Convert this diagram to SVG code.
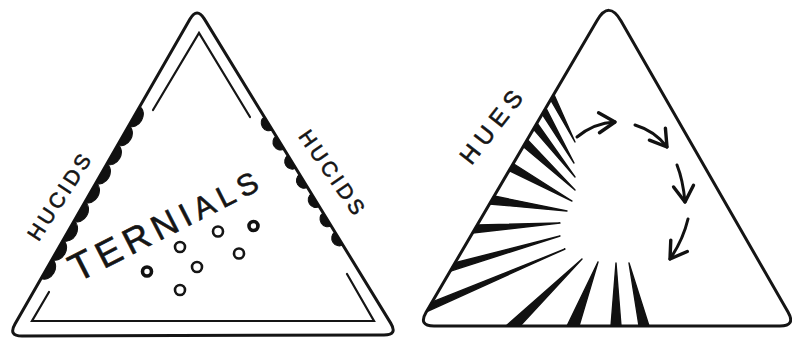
<svg xmlns="http://www.w3.org/2000/svg" width="792" height="341" viewBox="0 0 792 341">
<defs>
<style>
.outer{fill:none;stroke:#151515;stroke-width:3;stroke-linejoin:round}
.inner{fill:none;stroke:#151515;stroke-width:2.2;stroke-linejoin:miter;stroke-linecap:round}
.scallop{fill:#111;stroke:#111;stroke-width:1}
.lbl{font-family:"Liberation Sans",Arial,sans-serif;fill:#151515;stroke:#151515;stroke-width:0.6}
.ring{fill:none;stroke:#151515;stroke-width:2.6}
.ring2{fill:none;stroke:#111;stroke-width:3.6}
.ray{fill:#111;stroke:#111;stroke-width:1.4;stroke-linejoin:round}
.shaft{fill:none;stroke:#111;stroke-width:3;stroke-linecap:round}
</style>
<marker id="head" markerUnits="userSpaceOnUse" markerWidth="40" markerHeight="40" viewBox="-20 -20 40 40" refX="0" refY="0" orient="auto" overflow="visible">
<path d="M-16,-10 L0,0 L-16,10" fill="none" stroke="#111" stroke-width="3.4" stroke-linecap="round" stroke-linejoin="round"/>
</marker>
</defs>
<rect width="792" height="341" fill="#ffffff"/>

<g id="ternials-triangle">
<path class="outer" d="M190,19.1 L15,323.9 Q8,336 22,336 L384,335 Q398,335 390.7,323.1 L204.3,18.9 Q197,7 190,19.1 Z"/>
<path class="inner" d="M153,110 L199,33 L250,117"/>
<path class="inner" d="M49,292 L32,321 L374,321 L347,274"/>
<g transform="translate(197,7) rotate(119.9)">
<path class="scallop" d="M115,0 a11,8.5 0 0 1 22,0 a11,8.5 0 0 1 22,0 a11,8.5 0 0 1 22,0 a11,8.5 0 0 1 22,0 a11,8.5 0 0 1 22,0 a11,8.5 0 0 1 22,0 a11,8.5 0 0 1 22,0 a11,8.5 0 0 1 22,0 a11,8.5 0 0 1 22,0 Z"/>
</g>
<g transform="translate(197,7) rotate(58.5)">
<path class="scallop" d="M129,0 a7.5,7 0 0 0 15,0 Z M151.5,0 a7.5,7 0 0 0 15,0 Z M174,0 a7.5,7 0 0 0 15,0 Z M196.5,0 a7.5,7 0 0 0 15,0 Z M219,0 a7.5,7 0 0 0 15,0 Z M241.5,0 a7.5,7 0 0 0 15,0 Z M264,0 a7.5,7 0 0 0 15,0 Z"/>
</g>
<text class="lbl" transform="translate(59,197) rotate(-57)" y="7.5" text-anchor="middle" font-size="21" textLength="98" lengthAdjust="spacing">HUCIDS</text>
<text class="lbl" transform="translate(332,172) rotate(55)" y="7.5" text-anchor="middle" font-size="21" textLength="98" lengthAdjust="spacing">HUCIDS</text>
<text class="lbl" transform="translate(169,236) rotate(-27)" text-anchor="middle" textLength="206" lengthAdjust="spacing" stroke-width="0.3"><tspan font-size="39">T</tspan><tspan font-size="37">E</tspan><tspan font-size="36">R</tspan><tspan font-size="35">N</tspan><tspan font-size="33">I</tspan><tspan font-size="31">A</tspan><tspan font-size="30">L</tspan><tspan font-size="30">S</tspan></text>
<circle class="ring2" cx="147" cy="271.5" r="4.5"/>
<circle class="ring" cx="180" cy="247" r="5"/>
<circle class="ring" cx="218" cy="231.5" r="5"/>
<circle class="ring2" cx="253.5" cy="226" r="4.5"/>
<circle class="ring" cx="197" cy="267" r="5"/>
<circle class="ring" cx="239" cy="253.5" r="5"/>
<circle class="ring" cx="180" cy="290" r="5"/>
</g>

<g id="hues-triangle">
<path class="outer" d="M596.9,20.7 L426.1,312.2 Q418,326 434,326 L780,326 Q796,326 788,312.1 L620.9,20.8 Q609,0 596.9,20.7 Z"/>
<text class="lbl" transform="translate(491,127) rotate(-52)" y="8.5" text-anchor="middle" font-size="24" textLength="86" lengthAdjust="spacing">HUES</text>
<polygon class="ray" points="553.8,94.3 550.6,99.7 575,142"/>
<polygon class="ray" points="545.8,107.9 542.2,114.1 574,163"/>
<polygon class="ray" points="537,122.9 533.4,129.1 575,177"/>
<polygon class="ray" points="527.2,139.5 523.2,146.5 575,190"/>
<polygon class="ray" points="513.1,163.5 509.1,170.5 572,201"/>
<polygon class="ray" points="494.1,196 489.5,204 567,211"/>
<polygon class="ray" points="477.1,225 472.5,233 560,223"/>
<polygon class="ray" points="455.1,262.7 449.9,271.3 560,236"/>
<polygon class="ray" points="431.8,302.2 426.4,311.8 565,249"/>
<polygon class="ray" points="506,326 520,326 582,259"/>
<polygon class="ray" points="567,326 579,326 598,262"/>
<polygon class="ray" points="611,326 621,326 616,263"/>
<polygon class="ray" points="639,326 649,326 629,263"/>
</g>

<g id="connectors">
<path class="shaft" d="M577,137 Q594,123 615,122" marker-end="url(#head)"/>
<path class="shaft" d="M635,125 Q655,131 667,147" marker-end="url(#head)"/>
<path class="shaft" d="M677,165 Q683,180 685,202" marker-end="url(#head)"/>
<path class="shaft" d="M688,219 Q683,240 670,259" marker-end="url(#head)"/>
</g>
</svg>
